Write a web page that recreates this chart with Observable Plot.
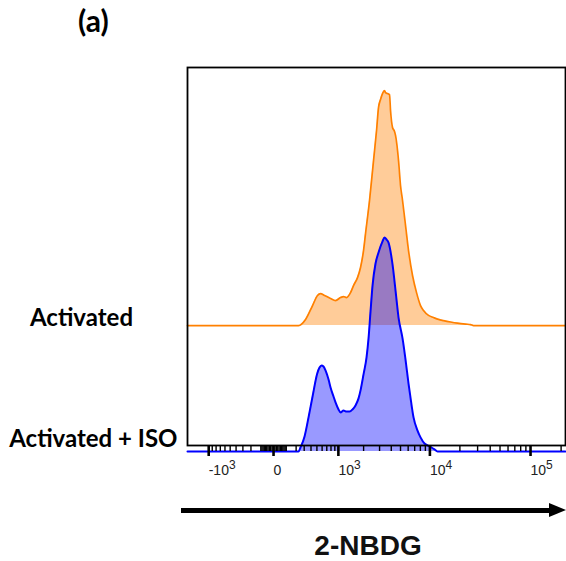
<!DOCTYPE html>
<html><head><meta charset="utf-8">
<script src="https://cdn.jsdelivr.net/npm/d3@7"></script>
<script src="https://cdn.jsdelivr.net/npm/@observablehq/plot@0.6"></script>
<style>
html,body{margin:0;padding:0;background:#fff;}
#wrap{position:relative;width:566px;height:561px;overflow:hidden;background:#fff;}
#title{position:absolute;left:78px;top:2px;font-family:Lato,sans-serif;font-weight:bold;font-size:30px;line-height:36px;color:#000;}
#chart{position:absolute;left:0;top:40px;}
#arrowLine{position:absolute;left:181px;top:508px;width:372px;height:5px;background:#000;}
#arrowHead{position:absolute;left:549px;top:503px;width:0;height:0;border-top:7.5px solid transparent;border-bottom:7.5px solid transparent;border-left:17px solid #000;}
#xlabel{position:absolute;left:268px;width:200px;top:530px;text-align:center;font-family:"Liberation Sans",Arial,sans-serif;font-weight:bold;font-size:28px;line-height:32px;color:#111;}
</style>
</head>
<body>
<div id="wrap">
  <div id="title">(a)</div>
  <div id="chart"></div>
  <div id="arrowLine"></div>
  <div id="arrowHead"></div>
  <div id="xlabel">2-NBDG</div>
</div>
<script>
// ---- data ----
const sampleNames = ["Activated", "Activated + ISO"];
const sampleOffsets = [53.6, 0];

// 2-NBDG fluorescence values and normalized counts, "Activated"
const activatedValue = [-1800, 228, 319, 425, 511, 568, 651, 789, 919, 1065, 1161, 1263, 1411, 1531, 1705, 1846, 1996, 2102, 2330, 2579, 2782, 2924, 3073, 3229, 3393, 3477, 3652, 3834, 3929, 4124, 4329, 4435, 4768, 5000, 5248, 5636, 6053, 6655, 7313, 8035, 8619, 9687, 10881, 12219, 13721, 16124, 18939, 22761, 25521, 27330, 220000];
const activatedCount = [0, 0, 2.6, 8.5, 12.8, 13.6, 12.8, 11.5, 10.6, 11.9, 12.3, 11.9, 14.0, 17.0, 20.4, 24.7, 31.9, 39.1, 53.2, 70.2, 83.0, 92.8, 96.2, 98.7, 100, 99.1, 98.7, 98.3, 91.5, 84.3, 82.6, 80.9, 70.2, 59.6, 53.2, 42.6, 31.9, 21.3, 14.0, 8.5, 6.4, 4.3, 3.4, 2.6, 2.1, 1.5, 1.0, 0.6, 0.4, 0, 0];

// "Activated + ISO"
const isoValue = [-1800, 228, 252, 305, 362, 425, 506, 549, 588, 629, 672, 741, 789, 865, 919, 1005, 1065, 1161, 1263, 1373, 1490, 1616, 1751, 1846, 1996, 2158, 2271, 2390, 2515, 2712, 2924, 3229, 3393, 3563, 3741, 4124, 4435, 4768, 5248, 5636, 6053, 6423, 6814, 7488, 8035, 8823, 9463, 10389, 11139, 11941, 220000];
const isoCount = [0, 0, 1.7, 6.4, 14.5, 23.4, 33.2, 35.7, 36.6, 36.2, 34.5, 30.6, 27.2, 23.4, 20.9, 17.9, 16.6, 17.4, 17.0, 17.0, 17.9, 19.6, 22.6, 26.0, 32.8, 40.0, 48.1, 59.6, 70.6, 80.0, 84.7, 89.4, 91.1, 90.2, 88.9, 79.6, 68.5, 57.0, 48.1, 39.1, 28.9, 21.3, 14.5, 8.9, 6.0, 3.4, 2.6, 1.7, 0.9, 0, 0];

// axis ticks
const majorTicks = [-1000, 0, 1000, 10000, 100000];
const majorTickBase = ["-10", "0", "10", "10", "10"];
const majorTickExponent = ["3", "", "3", "4", "5"];
const minorTicks = [
  -900, -800, -700, -600, -500, -400, -300, -200, -100,
  -90, -80, -70, -60, -50, -40, -30, -20, -10,
  10, 20, 30, 40, 50, 60, 70, 80, 90,
  100, 200, 300, 400, 500, 600, 700, 800, 900,
  2000, 3000, 4000, 5000, 6000, 7000, 8000, 9000,
  20000, 30000, 40000, 50000, 60000, 70000, 80000, 90000,
  200000
];

// ---- build tables ----
const activated = activatedValue.map((v, i) => ({value: v, y: sampleOffsets[0] + activatedCount[i]}));
const iso = isoValue.map((v, i) => ({value: v, y: sampleOffsets[1] + isoCount[i]}));

const orange = "#ff8000";
const blue = "#0000ff";
const labelFont = "Lato, 'Open Sans', sans-serif";

const chart = Plot.plot({
  width: 566,
  height: 450,
  marginLeft: 187,
  marginRight: 1,
  marginTop: 27,
  marginBottom: 45,
  style: {background: "white", overflow: "visible"},
  x: {type: "symlog", constant: 300, domain: [-1800, 220900]},
  y: {domain: [2.55, 163.4], axis: null},
  marks: [
    Plot.areaY(activated, {x: "value", y1: sampleOffsets[0], y2: "y", fill: orange, fillOpacity: 0.4, curve: "monotone-x"}),
    Plot.lineY(activated, {x: "value", y: "y", stroke: orange, strokeWidth: 1.7, curve: "monotone-x"}),
    Plot.areaY(iso, {x: "value", y1: sampleOffsets[1], y2: "y", fill: blue, fillOpacity: 0.4, curve: "monotone-x"}),
    Plot.lineY(iso, {x: "value", y: "y", stroke: blue, strokeWidth: 2, curve: "monotone-x"}),
    Plot.frame({stroke: "black", strokeWidth: 1.8}),
    Plot.axisX(minorTicks, {tickSize: 6, strokeWidth: 1.4, stroke: "black", text: null, label: null}),
    Plot.axisX(majorTicks, {
      tickSize: 11, strokeWidth: 2.6, stroke: "black", tickPadding: 9, label: null,
      tickFormat: d => {
        const i = majorTicks.indexOf(d);
        return majorTickBase[i] + (majorTickExponent[i] ? "^" + majorTickExponent[i] : "");
      },
      textAnchor: "start", dx: 0, fontSize: 14,
      fontFamily: "'Liberation Sans', Arial, sans-serif", fill: "#222"
    }),
    Plot.text([sampleNames[0]], {
      y: sampleOffsets[0], frameAnchor: "left", text: d => d,
      textAnchor: "middle", lineAnchor: "bottom", dx: -106,
      fontSize: 24, fontWeight: "bold", fontFamily: labelFont, fill: "black"
    }),
    Plot.text([sampleNames[1]], {
      y: sampleOffsets[1], frameAnchor: "left", text: d => d,
      textAnchor: "end", lineAnchor: "bottom", dx: -10, dy: -4,
      fontSize: 24, fontWeight: "bold", fontFamily: labelFont, fill: "black"
    })
  ]
});

// render exponents of tick labels as raised superscripts
d3.select(chart).selectAll("text").each(function() {
  const t = this.textContent;
  if (t.includes("^")) {
    const [base, exp] = t.split("^");
    const sel = d3.select(this);
    sel.text(null);
    sel.append("tspan").text(base);
    sel.append("tspan").attr("dy", "-0.55em").attr("font-size", "12px").text(exp);
  }
});
document.getElementById("chart").appendChild(chart);
</script>
</body></html>
